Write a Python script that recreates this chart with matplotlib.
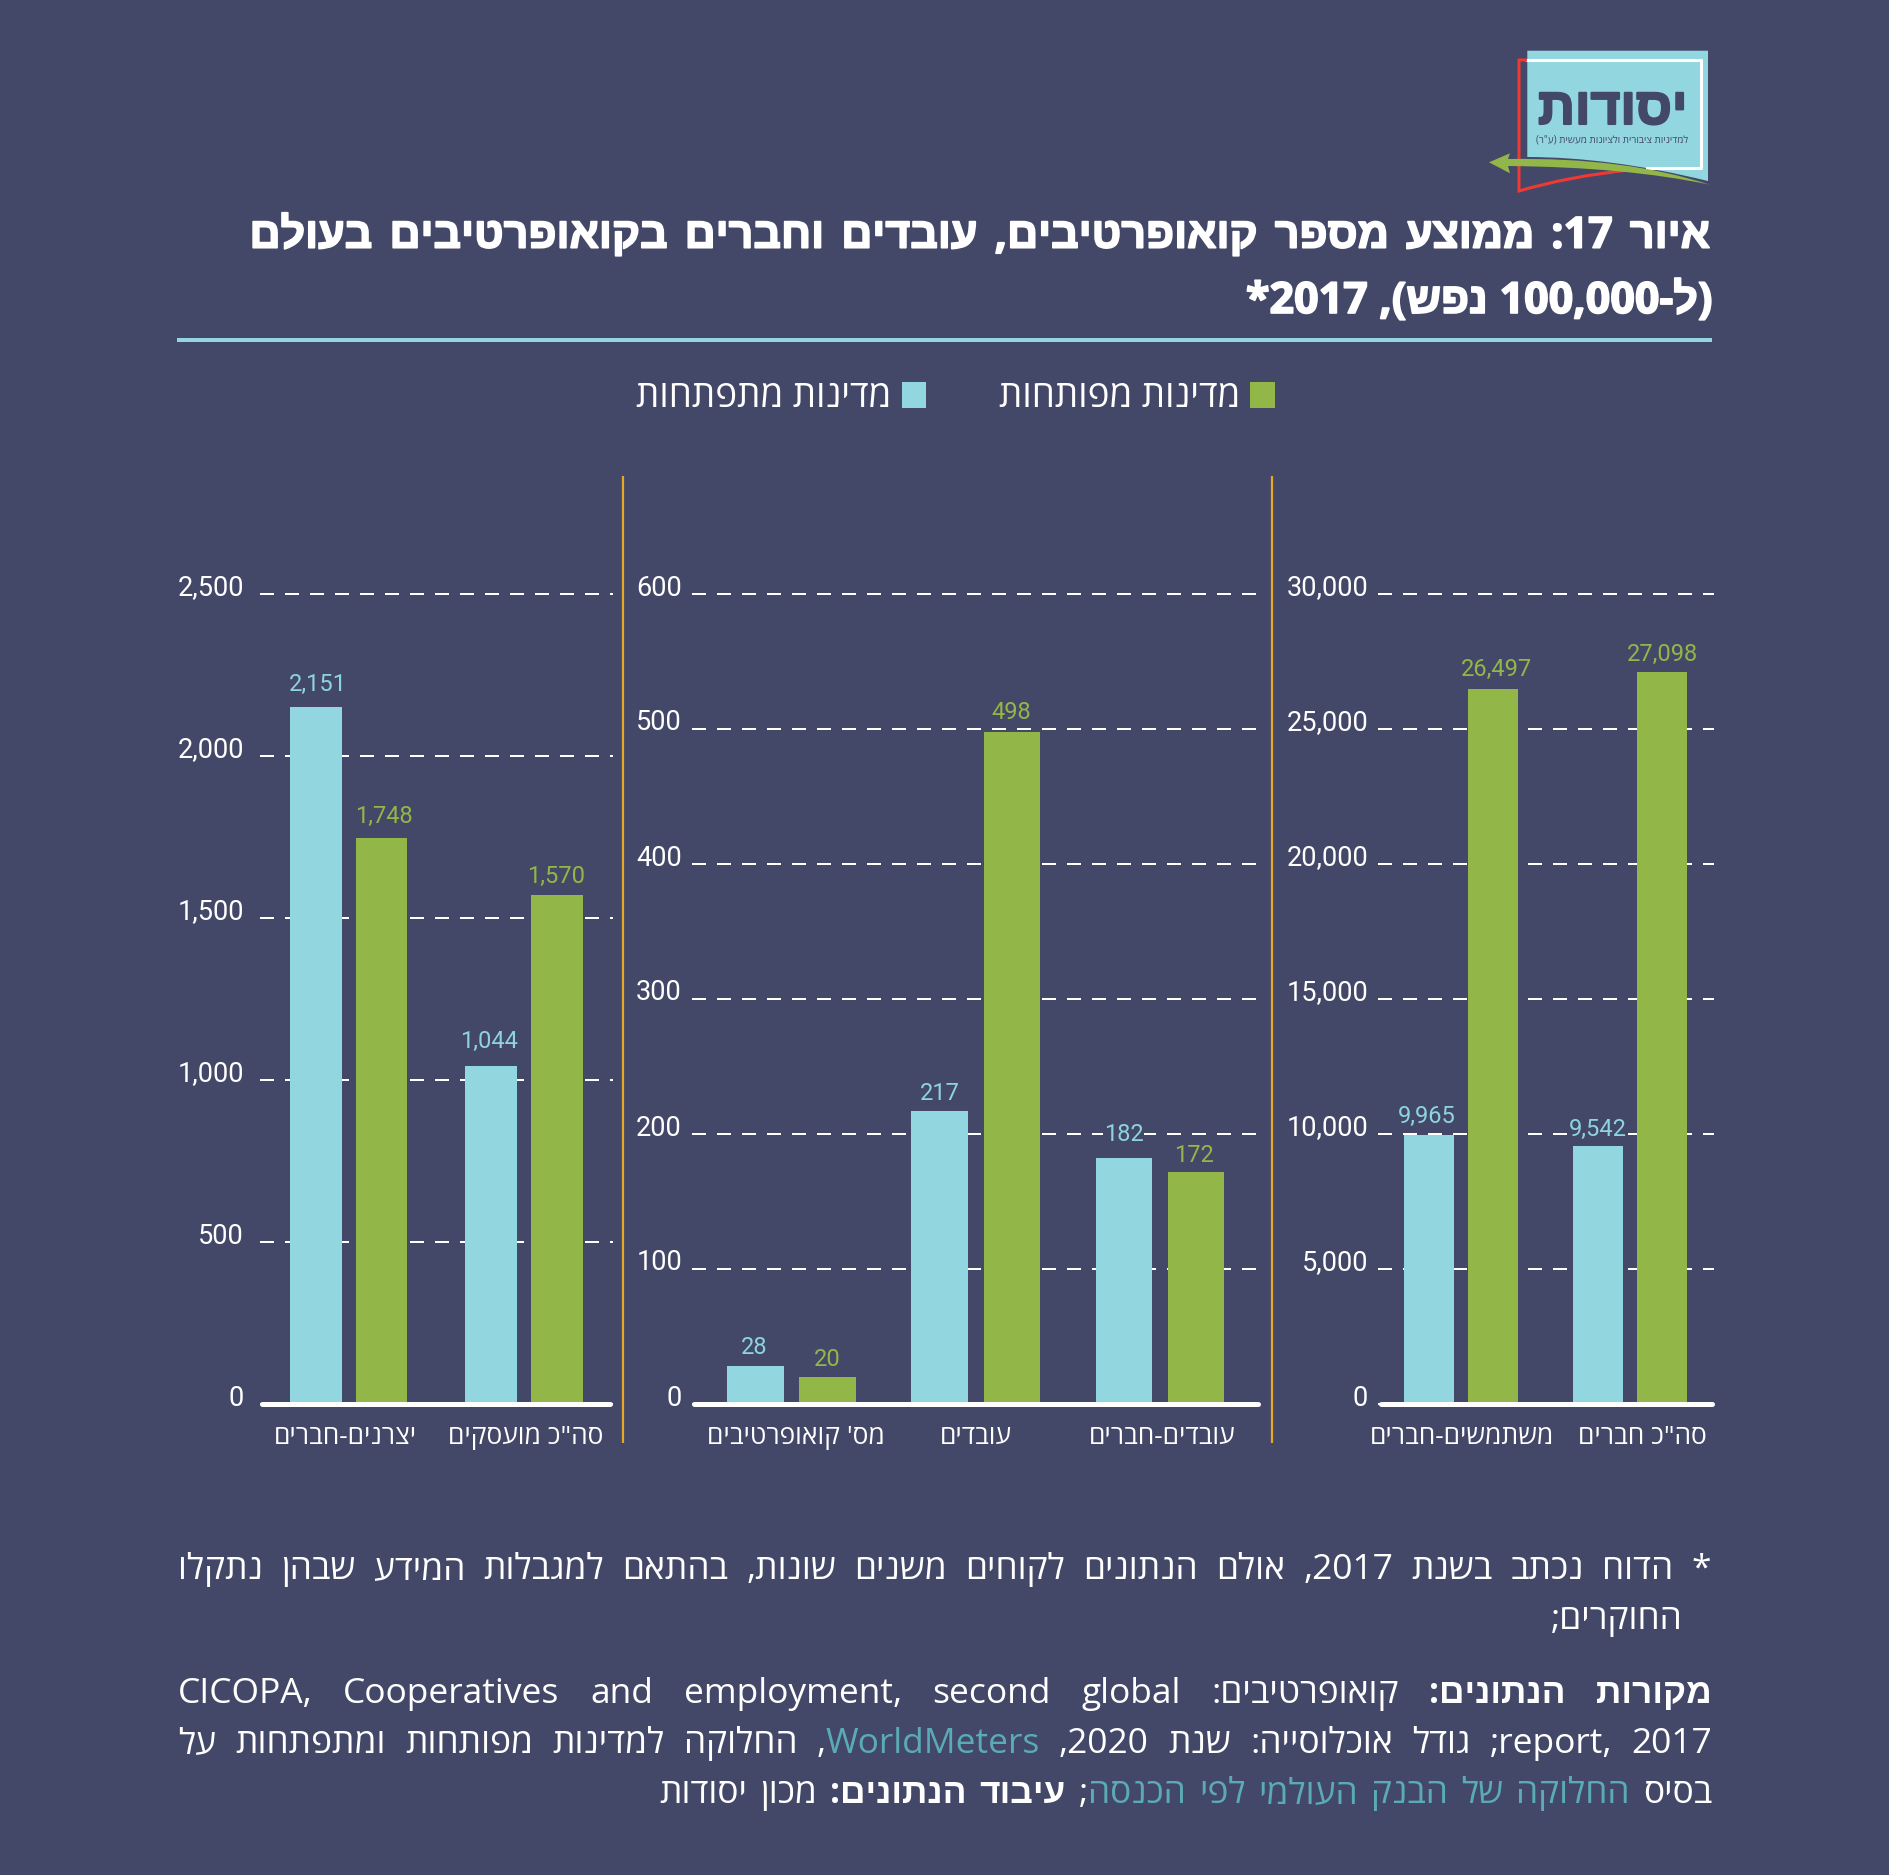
import re
import matplotlib
matplotlib.use("Agg")
import matplotlib.pyplot as plt
import matplotlib.patheffects as pe
from matplotlib.patches import PathPatch, Rectangle
from matplotlib.path import Path
from matplotlib.transforms import ScaledTranslation

W, H = 1890, 1875
BG = "#444868"
BLUE = "#92d6e0"
GREEN = "#92b648"
GOLD = "#e8a823"
TEAL = "#5aabb5"
RED = "#ee3a32"
FONT = ["Open Sans", "Liberation Sans", "DejaVu Sans"]
NUM = ["Roboto", "DejaVu Sans"]

# ---- data ----
series_names = ["מדינות מתפתחות", "מדינות מפותחות"]
cats_a = ["יצרנים-חברים", 'סה"כ מועסקים']
dev_a = [2151, 1044]
adv_a = [1748, 1570]
ticks_a = [0, 500, 1000, 1500, 2000, 2500]
cats_b = ["מס' קואופרטיבים", "עובדים", "עובדים-חברים"]
dev_b = [28, 217, 182]
adv_b = [20, 498, 172]
ticks_b = [0, 100, 200, 300, 400, 500, 600]
cats_c = ["משתמשים-חברים", 'סה"כ חברים']
dev_c = [9965, 9542]
adv_c = [26497, 27098]
ticks_c = [0, 5000, 10000, 15000, 20000, 25000, 30000]

title_lines = ["איור 17: ממוצע מספר קואופרטיבים, עובדים וחברים בקואופרטיבים בעולם",
               "(ל-100,000 נפש), 2017*"]
note_lines = [
    [("* הדוח נכתב בשנת 2017, אולם הנתונים לקוחים משנים שונות, בהתאם למגבלות המידע שבהן נתקלו", "n")],
    [("החוקרים;", "n")],
    [("מקורות הנתונים: ", "b"), ("קואופרטיבים: ", "n"),
     ("CICOPA, Cooperatives and employment, second global", "n")],
    [("report, 2017; גודל אוכלוסייה: שנת 2020, ", "n"), ("WorldMeters", "l"),
     (", החלוקה למדינות מפותחות ומתפתחות על", "n")],
    [("בסיס ", "n"), ("החלוקה של הבנק העולמי לפי הכנסה", "l"), ("; ", "n"),
     ("עיבוד הנתונים: ", "b"), ("מכון יסודות", "n")],
]
logo_name = "יסודות"
logo_sub = 'למדיניות ציבורית ולציונות מעשית (ע"ר)'

# ---- text helpers (matplotlib has no bidi layout, so order glyphs for display) ----
LTR = re.compile(r"[A-Za-z0-9](?:[A-Za-z0-9 ,.\-]*[A-Za-z0-9])?")
MIRROR = str.maketrans("()", ")(")


def visual(s):
    out, pos = [], 0
    for m in LTR.finditer(s):
        out.append(s[pos:m.start()][::-1].translate(MIRROR))
        out.append(m.group())
        pos = m.end()
    out.append(s[pos:][::-1].translate(MIRROR))
    return "".join(reversed(out))


plt.rcParams["font.family"] = FONT
fig = plt.figure(figsize=(W / 100, H / 100), dpi=100, facecolor=BG)
renderer = fig.canvas.get_renderer()


def px_axes(x0, x1, y_top, y_bot, **kw):
    return fig.add_axes([x0 / W, 1 - y_bot / H, (x1 - x0) / W, (y_bot - y_top) / H], **kw)


def panel(cats, dev, adv, ticks, x0, x1, xlim, bw, off, pad, lift_dev, lift_adv,
          name_nudge, dx_dev, dx_adv):
    ax = px_axes(x0, x1, 594, 1404)
    ax.set_facecolor("none")
    xs = list(range(len(cats)))
    ax.bar([x - off for x in xs], dev, bw, color=BLUE, zorder=3)
    ax.bar([x + off for x in xs], adv, bw, color=GREEN, zorder=3)
    ax.set_xlim(*xlim)
    ax.set_ylim(ticks[0], ticks[-1])
    for s in ("top", "left", "right"):
        ax.spines[s].set_visible(False)
    sp = ax.spines["bottom"]
    sp.set_color("white")
    sp.set_linewidth(5 * 0.72)
    sp.set_capstyle("round")
    sp.set_zorder(4)
    inset = 2.5 * (xlim[1] - xlim[0]) / (x1 - x0)
    sp.set_bounds(xlim[0] + inset, xlim[1] - inset)
    ax.set_yticks(ticks)
    ax.set_yticklabels([f"{t:,}" for t in ticks], family=NUM, fontsize=19.5, color="white")
    ax.set_xticks(xs)
    ax.set_xticklabels([visual(c) for c in cats], fontsize=19, color="white")
    ax.tick_params(axis="y", length=0, pad=pad * 0.72)
    ax.tick_params(axis="x", length=0, pad=40 * 0.72)
    down = ScaledTranslation(0, -1.5 / 100, fig.dpi_scale_trans)
    for lab in ax.get_yticklabels():
        lab.set_verticalalignment("baseline")
        lab.set_transform(lab.get_transform() + down)
    for i, lab in enumerate(ax.get_xticklabels()):
        lab.set_verticalalignment("baseline")
        lab.set_transform(lab.get_transform() +
                          ScaledTranslation(name_nudge[i] / 100, 0, fig.dpi_scale_trans))
    ax.set_axisbelow(True)
    ax.yaxis.grid(True, color="white", linewidth=2 * 0.72, linestyle=(0, (7, 5.5)), zorder=1)
    for g in ax.get_ygridlines():
        g.set_clip_on(False)
    ax.xaxis.grid(False)
    for vals, sign, col, lifts, dxs in ((dev, -1, "#8ed4de", lift_dev, dx_dev),
                                        (adv, 1, GREEN, lift_adv, dx_adv)):
        for x, v, lift, dx in zip(xs, vals, lifts, dxs):
            ax.annotate(f"{v:,}", (x + sign * off, v), xytext=(dx * 0.72, lift * 0.72),
                        textcoords="offset points", ha="center", va="baseline",
                        family=NUM, fontsize=17, color=col, zorder=5,
                        bbox=dict(fc=BG, ec="none", pad=0.5))
    return ax


panel(cats_a, dev_a, adv_a, ticks_a, 260, 612.7, (-0.505, 1.506), 0.295, 0.1875, 16,
      [16, 17.5], [15, 12.6], [-3, 2], [2.4, -2.4], [2.4, -1.2])
panel(cats_b, dev_b, adv_b, ticks_b, 692, 1260, (-0.54, 2.543), 0.307, 0.196, 10,
      [12.6, 11.5, 17], [11.5, 12.6, 10], [4, 0, 2], [-1, 0, 0], [0, -1, -2.4])
panel(cats_c, dev_c, adv_c, ticks_c, 1378, 1714, (-0.495, 1.501), 0.297, 0.19, 10,
      [12, 10], [12.5, 11], [1, 13], [-2.4, 0], [3.6, 1.2])

# ---- page overlay in pixel coordinates ----
ov = fig.add_axes([0, 0, 1, 1], zorder=10)
ov.set_xlim(0, W)
ov.set_ylim(H, 0)
ov.axis("off")
ov.patch.set_alpha(0)


def place_line(segs, y, x_right, x_left=None, size=23, bold_all=False, space=0.27, heavy=0):
    # Words in display order, each made of styled pieces
    words, cur = [], []
    for text, st in reversed(segs):
        vis = visual(text)
        parts = vis.split(" ")
        for i, p in enumerate(parts):
            if i:
                if cur:
                    words.append(cur)
                cur = []
            if p:
                cur.append((p, st))
    if cur:
        words.append(cur)
    placed = []
    total = 0
    for word in words:
        group = []
        for txt, st in word:
            col = TEAL if st == "l" else "white"
            t = ov.text(0, y, txt, ha="left", va="baseline", fontsize=size, color=col,
                        fontweight="bold" if (st == "b" or bold_all) else "normal")
            if heavy:
                t.set_path_effects([pe.withStroke(linewidth=heavy, foreground=col)])
            w = t.get_window_extent(renderer).width
            group.append((t, w))
            total += w
        placed.append(group)
    n = len(placed)
    if x_left is None or n < 2:
        gap = size / 0.72 * space
        x = x_right - total - gap * (n - 1)
    else:
        gap = (x_right - x_left - total) / (n - 1)
        x = x_left
    for group in placed:
        for t, w in group:
            t.set_x(x)
            x += w
        x += gap


def fit_text(s, x0, x1, y, color, weight, start=20):
    t = ov.text(x0, y, s, ha="left", va="baseline", color=color, fontweight=weight, fontsize=start)
    t.set_fontsize(start * (x1 - x0) / t.get_window_extent(renderer).width)
    return t


# logo
ov.add_patch(PathPatch(Path([(1527.3, 50.7), (1708, 50.7), (1708, 181), (1610, 157), (1527.3, 157), (1527.3, 50.7)],
                            [Path.MOVETO, Path.LINETO, Path.LINETO, Path.CURVE3, Path.CURVE3, Path.CLOSEPOLY]),
                       fc=BLUE, ec="none", zorder=1))
ov.plot([1527, 1701, 1701, 1647], [60, 60, 167.7, 167.7], color="white", lw=2.2, zorder=2,
        solid_joinstyle="round")
ov.add_patch(PathPatch(Path([(1527, 60), (1519, 60), (1519, 191), (1570, 176), (1630, 170)],
                            [Path.MOVETO, Path.LINETO, Path.LINETO, Path.CURVE3, Path.CURVE3]),
                       fc="none", ec=RED, lw=2.2, zorder=3))
ov.add_patch(PathPatch(Path([(1489, 162.3), (1510, 153.3), (1508, 159), (1625, 157), (1709, 184.5),
                             (1625, 167), (1508, 166), (1510, 173.3), (1489, 162.3)],
                            [Path.MOVETO, Path.LINETO, Path.LINETO, Path.CURVE3, Path.CURVE3,
                             Path.CURVE3, Path.CURVE3, Path.LINETO, Path.CLOSEPOLY]),
                       fc=GREEN, ec="none", zorder=4))
logo_t = fit_text(visual(logo_name), 1538, 1687, 124, BG, "bold", 30)
logo_t.set_zorder(5)
logo_t.set_path_effects([pe.withStroke(linewidth=1.5, foreground=BG)])
fit_text(visual(logo_sub), 1536, 1688, 142, BG, "normal", 9).set_zorder(5)

# title and rule
place_line([(title_lines[0], "b")], 247.7, 1710, 249.5, size=31, heavy=1.2)
place_line([(title_lines[1], "b")], 313, 1712, 1246, size=31, heavy=1.2)
ov.plot([177, 1711.5], [340, 340], color=BLUE, lw=4 * 0.72, solid_capstyle="butt")

# legend
ov.add_patch(Rectangle((1250, 382), 25.4, 25.7, fc=GREEN, ec="none"))
ov.add_patch(Rectangle((901.8, 382), 24.5, 25.7, fc=BLUE, ec="none"))
ov.text(1240, 407, visual(series_names[1]), ha="right", va="baseline", color="white", fontsize=26.5)
ov.text(891.5, 407, visual(series_names[0]), ha="right", va="baseline", color="white", fontsize=26.5)

# panel separators
for x in (623.4, 1272):
    ov.plot([x, x], [476, 1443], color=GOLD, lw=2.2 * 0.72, solid_capstyle="butt")

# footnote
place_line(note_lines[0], 1579, 1711, 178, size=25.5)
place_line(note_lines[1], 1629, 1683, size=25.5)
place_line(note_lines[2], 1703, 1712, 178, size=25.5)
place_line(note_lines[3], 1753, 1712, 178, size=25.5)
place_line(note_lines[4], 1803, 1712, 659, size=25.5)

fig.savefig("out.png", dpi=100, facecolor=BG)
